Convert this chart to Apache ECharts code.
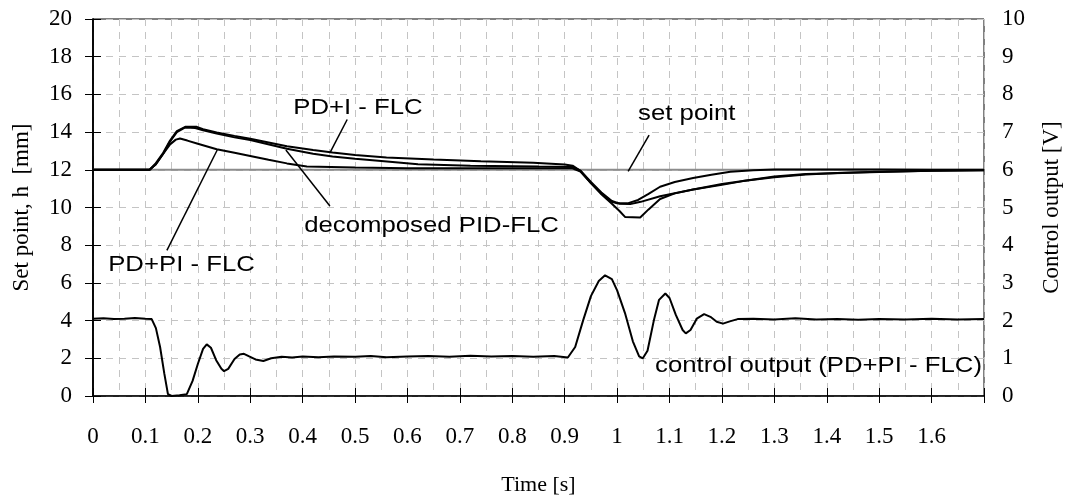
<!DOCTYPE html>
<html>
<head>
<meta charset="utf-8">
<script src="https://cdn.jsdelivr.net/npm/echarts@6/dist/echarts.min.js"></script>
<style>
html,body{margin:0;padding:0;background:#fff;}
#c{width:1073px;height:501px;}
</style>
</head>
<body>
<div id="c"></div>
<script>
// ---------------- data ----------------
const xTicksMax = 1.7;
const setPointT = [0, 1.7];
const setPointH = [12, 12];

const tPDPI = [0,0.05,0.108,0.12,0.134,0.147,0.158,0.166,0.18,0.2,0.236,0.27,0.3,0.335,0.37,0.408,0.5,0.6,0.7,0.8,0.9,0.915,0.93,0.95,0.97,0.99,1.0,1.02,1.04,1.06,1.082,1.11,1.145,1.18,1.216,1.26,1.3,1.4,1.5,1.6,1.7];
const hPDPI = [12.0,12.0,12.0,12.3,12.85,13.35,13.6,13.66,13.55,13.38,13.09,12.9,12.73,12.53,12.34,12.17,12.12,12.08,12.08,12.08,12.08,12.08,11.9,11.3,10.75,10.3,10.22,10.22,10.4,10.72,11.1,11.35,11.56,11.74,11.9,11.98,12.02,12.02,12.02,12.0,12.0];

const tPDI = [0,0.108,0.12,0.134,0.147,0.16,0.176,0.198,0.21,0.236,0.27,0.3,0.37,0.42,0.457,0.5,0.56,0.65,0.74,0.84,0.9,0.915,0.93,0.95,0.97,0.99,1.005,1.025,1.045,1.082,1.145,1.2,1.24,1.3,1.36,1.43,1.5,1.6,1.7];
const hPDI = [12,12,12.35,12.9,13.55,14.05,14.28,14.28,14.15,13.98,13.8,13.65,13.25,13.05,12.92,12.78,12.65,12.55,12.46,12.38,12.28,12.22,11.95,11.35,10.8,10.35,10.2,10.18,10.3,10.6,10.95,11.2,11.4,11.6,11.75,11.85,11.9,11.95,11.97];

const tDEC = [0,0.108,0.12,0.134,0.147,0.16,0.176,0.195,0.21,0.236,0.27,0.3,0.37,0.42,0.457,0.5,0.55,0.62,0.72,0.85,0.915,0.93,0.95,0.97,0.99,1.005,1.015,1.044,1.06,1.082,1.11,1.145,1.2,1.25,1.3,1.36,1.43,1.5,1.6,1.7];
const hDEC = [12,12,12.3,12.85,13.5,14.0,14.25,14.22,14.1,13.92,13.72,13.58,13.12,12.85,12.7,12.58,12.47,12.3,12.22,12.17,12.15,11.95,11.3,10.7,10.2,9.8,9.5,9.47,9.9,10.45,10.75,10.95,11.25,11.45,11.65,11.78,11.83,11.88,11.95,11.97];

const tCTRL = [0,0.02,0.04,0.06,0.08,0.1,0.112,0.12,0.128,0.136,0.143,0.15,0.165,0.179,0.19,0.2,0.21,0.217,0.225,0.235,0.245,0.25,0.258,0.27,0.28,0.288,0.298,0.31,0.325,0.34,0.36,0.38,0.4,0.43,0.46,0.5,0.53,0.56,0.6,0.64,0.68,0.72,0.76,0.8,0.84,0.88,0.906,0.92,0.935,0.95,0.965,0.977,0.99,1.0,1.015,1.03,1.042,1.049,1.058,1.07,1.08,1.092,1.1,1.112,1.125,1.131,1.14,1.152,1.166,1.178,1.19,1.202,1.215,1.23,1.26,1.3,1.34,1.38,1.42,1.46,1.5,1.55,1.6,1.65,1.7];
const vCTRL = [2.05,2.06,2.04,2.05,2.07,2.05,2.04,1.8,1.3,0.6,0.05,0.0,0.02,0.05,0.4,0.85,1.25,1.37,1.28,0.95,0.72,0.66,0.72,0.98,1.1,1.12,1.05,0.97,0.93,1.0,1.04,1.02,1.05,1.03,1.05,1.04,1.06,1.03,1.05,1.06,1.04,1.07,1.05,1.06,1.04,1.06,1.02,1.3,2.0,2.65,3.05,3.2,3.1,2.8,2.2,1.45,1.05,1.0,1.2,2.0,2.55,2.72,2.6,2.15,1.75,1.66,1.75,2.05,2.17,2.1,1.97,1.92,1.98,2.04,2.05,2.03,2.06,2.03,2.04,2.02,2.04,2.03,2.05,2.03,2.04];

const labels = [
  {text: 'PD+I - FLC', t: 0.382, h: 15.3},
  {text: 'set point', t: 1.040, h: 14.99},
  {text: 'decomposed PID-FLC', t: 0.403, h: 9.03},
  {text: 'PD+PI - FLC', t: 0.029, h: 6.95},
  {text: 'control output (PD+PI - FLC)', t: 1.0725, h: 1.62}
];
const leaders = [
  [[0.485, 14.67], [0.452, 12.90]],
  [[1.061, 13.84], [1.021, 11.91]],
  [[0.452, 10.08], [0.368, 13.05]],
  [[0.141, 7.73], [0.237, 13.05]]
];

// ---------------- chart ----------------
const zip = (a, b) => a.map((x, i) => [x, b[i]]);
const serif = 'Liberation Serif, Times New Roman, serif';
const sans = 'Liberation Sans, Arial, sans-serif';
const gridDash = {type: [7, 6], color: '#c4c4c4', width: 1};

const chart = echarts.init(document.getElementById('c'), null, {renderer: 'canvas'});
const lineStyleBlack = {color: '#000', width: 2};

const option = {
  animation: false,
  backgroundColor: '#fff',
  grid: {left: 93, right: 89, top: 19, bottom: 98, show: true, borderColor: '#000', borderWidth: 1, backgroundColor: 'transparent'},
  xAxis: [{
    type: 'value', min: 0, max: xTicksMax, interval: 0.1,
    name: 'Time [s]', nameLocation: 'middle', nameGap: 78,
    nameTextStyle: {fontFamily: serif, fontSize: 22, color: '#000'},
    axisLine: {onZero: false, lineStyle: {color: '#000', width: 1.5}},
    axisTick: {show: true, length: 7, lineStyle: {color: '#000', width: 1}},
    axisLabel: {margin: 29, fontFamily: serif, fontSize: 23, color: '#000',
      formatter: v => (v > 1.65 ? '' : String(Math.round(v * 10) / 10))},
    splitLine: {show: true, lineStyle: gridDash},
    minorTick: {show: false, splitNumber: 2},
    minorSplitLine: {show: true, lineStyle: gridDash}
  }, {
    type: 'value', min: 0, max: xTicksMax, interval: 0.1, position: 'bottom',
    axisLine: {show: false},
    axisTick: {show: true, inside: true, length: 8, lineStyle: {color: '#000', width: 1}},
    axisLabel: {show: false}, splitLine: {show: false}
  }],
  yAxis: [{
    type: 'value', min: 0, max: 20, interval: 2,
    name: 'Set point, h  [mm]', nameLocation: 'middle', nameGap: 60, nameRotate: 90,
    nameTextStyle: {fontFamily: serif, fontSize: 23, color: '#000'},
    axisLine: {show: true, lineStyle: {color: '#000', width: 1.5}},
    axisTick: {show: true, length: 8, lineStyle: {color: '#000', width: 1}},
    axisLabel: {margin: 21, fontFamily: serif, fontSize: 23, color: '#000'},
    splitLine: {show: true, lineStyle: gridDash}
  }, {
    type: 'value', min: 0, max: 10, interval: 1, position: 'right',
    name: 'Control output [V]', nameLocation: 'middle', nameGap: 56, nameRotate: 90,
    nameTextStyle: {fontFamily: serif, fontSize: 23, color: '#000'},
    axisLine: {show: true, lineStyle: {color: '#000', width: 1.5}},
    axisTick: {show: true, length: 8, lineStyle: {color: '#000', width: 1}},
    axisLabel: {margin: 18, fontFamily: serif, fontSize: 23, color: '#000'},
    splitLine: {show: false}
  }],
  series: [
    {name: 'set point', type: 'line', data: zip(setPointT, setPointH), symbol: 'none',
      lineStyle: {color: '#8c8c8c', width: 2}, z: 2,
      markLine: {silent: true, symbol: 'none', label: {show: false},
        lineStyle: {color: '#000', width: 1.5, type: 'solid'},
        data: leaders.map(l => [{coord: l[0]}, {coord: l[1]}])}},
    {name: 'PD+PI - FLC', type: 'line', data: zip(tPDPI, hPDPI), symbol: 'none', lineStyle: lineStyleBlack, z: 3},
    {name: 'PD+I - FLC', type: 'line', data: zip(tPDI, hPDI), symbol: 'none', lineStyle: lineStyleBlack, z: 3},
    {name: 'decomposed PID-FLC', type: 'line', data: zip(tDEC, hDEC), symbol: 'none', lineStyle: lineStyleBlack, z: 3},
    {name: 'control output', type: 'line', yAxisIndex: 1, data: zip(tCTRL, vCTRL), symbol: 'none', lineStyle: lineStyleBlack, z: 3}
  ]
};
chart.setOption(option);

const g = labels.map(l => {
  const p = chart.convertToPixel({xAxisIndex: 0, yAxisIndex: 0}, [l.t, l.h]);
  return {
    type: 'text', x: p[0], y: p[1], scaleX: 1.17, scaleY: 1, z: 10,
    style: {text: l.text, x: 0, y: 0, font: '22px ' + sans, fill: '#000',
      textAlign: 'left', textVerticalAlign: 'middle', align: 'left', verticalAlign: 'middle'}
  };
});
chart.setOption({graphic: g});
</script>
</body>
</html>
